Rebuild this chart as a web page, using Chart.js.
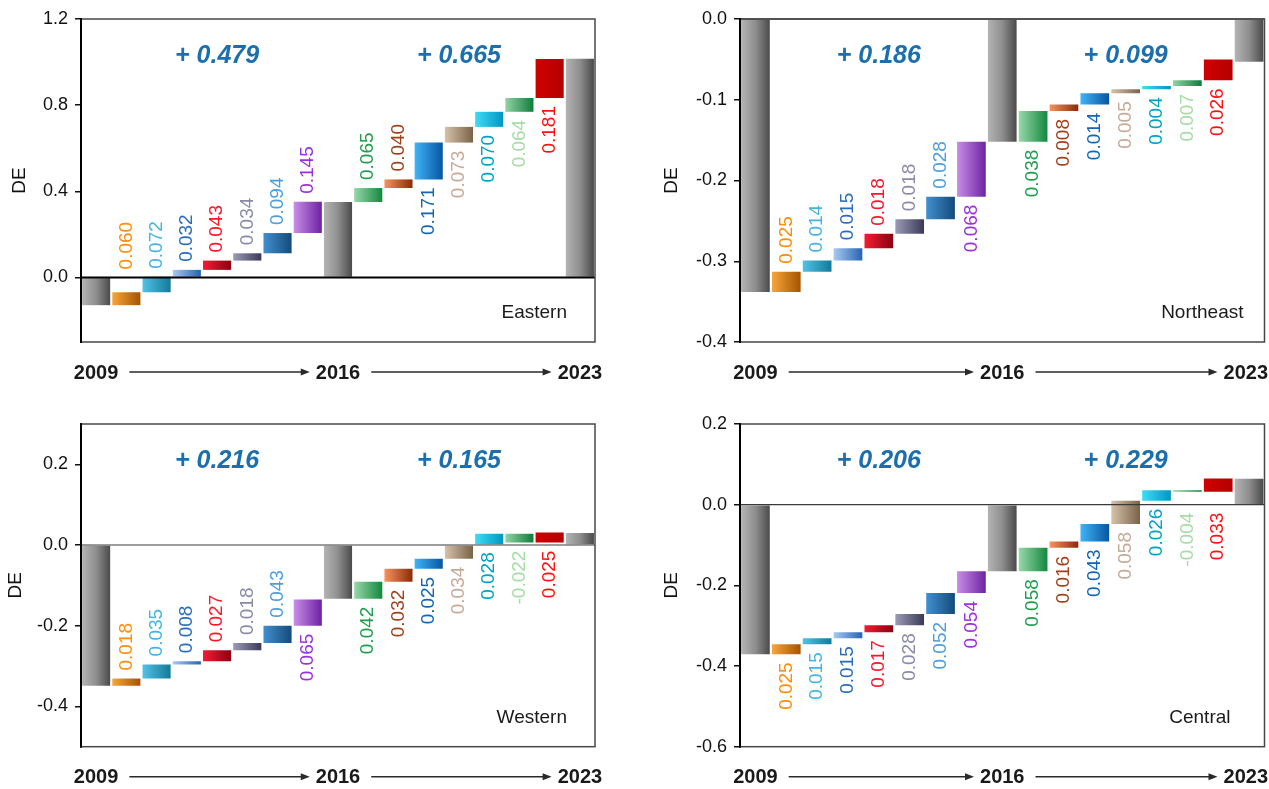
<!DOCTYPE html>
<html>
<head>
<meta charset="utf-8">
<script src="https://cdn.jsdelivr.net/npm/chart.js@4.4.1/dist/chart.umd.min.js"></script>
<style>
  html, body { margin: 0; padding: 0; background: #ffffff; }
  #fig { position: relative; width: 1269px; height: 789px; overflow: hidden; }
  .panel { position: absolute; }
  .panel canvas { display: block; }
</style>
</head>
<body>
<div id="fig">
  <div class="panel" style="left:0px;top:0px;"><canvas id="eastern" width="634" height="394"></canvas></div>
  <div class="panel" style="left:634px;top:0px;"><canvas id="northeast" width="635" height="394"></canvas></div>
  <div class="panel" style="left:0px;top:394px;"><canvas id="western" width="634" height="395"></canvas></div>
  <div class="panel" style="left:634px;top:394px;"><canvas id="central" width="635" height="395"></canvas></div>
</div>
<script>
// ---- data -------------------------------------------------------------
const years = ['2009', '2016', '2023'];

// DE level at 2009, 2016, 2023
const easternTotals   = [-0.129, 0.350, 1.015];
const northeastTotals = [-0.338, -0.152, -0.053];
const westernTotals   = [-0.349, -0.133, 0.030];
const centralTotals   = [-0.371, -0.165, 0.064];

// factor contributions, 2009 -> 2016
const easternFirst   = [0.060, 0.072, 0.032, 0.043, 0.034, 0.094, 0.145];
const northeastFirst = [0.025, 0.014, 0.015, 0.018, 0.018, 0.028, 0.068];
const westernFirst   = [0.018, 0.035, 0.008, 0.027, 0.018, 0.043, 0.065];
const centralFirst   = [0.025, 0.015, 0.015, 0.017, 0.028, 0.052, 0.054];

// factor contributions, 2016 -> 2023
const easternSecond   = [0.065, 0.040, 0.171, 0.073, 0.070, 0.064, 0.181];
const northeastSecond = [0.038, 0.008, 0.014, 0.005, 0.004, 0.007, 0.026];
const westernSecond   = [0.042, 0.032, 0.025, 0.034, 0.028, -0.022, 0.025];
const centralSecond   = [0.058, 0.016, 0.043, 0.058, 0.026, -0.004, 0.033];

// net change of each period
const easternChange   = [0.479, 0.665];
const northeastChange = [0.186, 0.099];
const westernChange   = [0.216, 0.165];
const centralChange   = [0.206, 0.229];

// y-axis tick values
const easternTicks   = [0.0, 0.4, 0.8, 1.2];
const northeastTicks = [-0.4, -0.3, -0.2, -0.1, 0.0];
const westernTicks   = [-0.4, -0.2, 0.0, 0.2];
const centralTicks   = [-0.6, -0.4, -0.2, 0.0, 0.2];

// ---- styles -----------------------------------------------------------
const FONT = '"Liberation Sans", Arial, Helvetica, sans-serif';
const TOTAL_FILL = ['#b4b4b4', '#8e8e8e', '#4a4a4a'];
const FIRST_FILL = [
  ['#f7a63c', '#a65300'],
  ['#52c2e6', '#127a9a'],
  ['#a8caf2', '#2862b2'],
  ['#f41c34', '#8c0010'],
  ['#9c9cb8', '#3a3a58'],
  ['#4290d0', '#144a7a'],
  ['#c88ee6', '#6e22a2']
];
const SECOND_FILL = [
  ['#98d8aa', '#12883e'],
  ['#f6945e', '#8c2a0a'],
  ['#40b4f6', '#0656a2'],
  ['#d6c2ac', '#7a6246'],
  ['#40dcf6', '#0096c2'],
  ['#92d4a4', '#0e7c3a'],
  ['#d00000', '#b60000']
];
const FIRST_TEXT  = ['#ff8c0a', '#45b4e4', '#2a6cbc', '#ff1428', '#8a8aa8', '#4c9ee0', '#9a30e0'];
const SECOND_TEXT = ['#1f9e4c', '#a3401c', '#1466b4', '#c6aa98', '#00a3c4', '#a6dca6', '#ff1010'];
const NOTE_BLUE = '#1b6fae';
const LABEL_GAP = 8;
const BAR_PCT = 0.93;

// ---- helpers ----------------------------------------------------------
function stepLabels() {
  const out = [years[0]];
  for (let k = 1; k <= 7; k++) out.push('a' + k);
  out.push(years[1]);
  for (let k = 1; k <= 7; k++) out.push('b' + k);
  out.push(years[2]);
  return out;
}

// floating [start, end] ranges of the waterfall
function waterfall(totals, first, second) {
  const ranges = [[0, totals[0]]];
  let level = totals[0];
  first.forEach(v => { ranges.push([level, level + v]); level += v; });
  ranges.push([0, totals[1]]);
  level = totals[1];
  second.forEach(v => { ranges.push([level, level + v]); level += v; });
  ranges.push([0, totals[2]]);
  return ranges;
}

function fillFor(index) {
  if (index === 0 || index === 8 || index === 16) return TOTAL_FILL;
  return index < 8 ? FIRST_FILL[index - 1] : SECOND_FILL[index - 9];
}

function barGradient(c) {
  const stops = fillFor(c.index);
  const chart = c.chart;
  const xs = chart.scales.x;
  if (!xs || !chart.chartArea) return stops[stops.length - 1];
  const cx = xs.getPixelForValue(c.index);
  const half = (xs.getPixelForValue(1) - xs.getPixelForValue(0)) * BAR_PCT / 2;
  const g = chart.ctx.createLinearGradient(cx - half, 0, cx + half, 0);
  stops.forEach((col, k) => g.addColorStop(k / (stops.length - 1), col));
  return g;
}

// plot frame and zero line
function framePlugin(p) {
  return {
    id: 'frame',
    afterDatasetsDraw(chart) {
      const { ctx, chartArea: a } = chart;
      const z = chart.scales.y.getPixelForValue(0);
      ctx.save();
      ctx.strokeStyle = p.zeroColor;
      ctx.lineWidth = p.zeroWidth;
      ctx.beginPath();
      ctx.moveTo(a.left, z);
      ctx.lineTo(a.right, z);
      ctx.stroke();
      ctx.strokeStyle = '#474747';
      ctx.lineWidth = 1.5;
      ctx.strokeRect(a.left, a.top, a.right - a.left, a.bottom - a.top);
      ctx.strokeStyle = '#000000';
      ctx.lineWidth = 2;
      ctx.beginPath();
      ctx.moveTo(a.left, a.top - 1);
      ctx.lineTo(a.left, a.bottom + 1);
      ctx.stroke();
      ctx.restore();
    }
  };
}

// rotated contribution values next to each factor bar
function valuePlugin(p) {
  return {
    id: 'values',
    afterDatasetsDraw(chart) {
      const ctx = chart.ctx;
      const meta = chart.getDatasetMeta(0);
      const z = chart.scales.y.getPixelForValue(0);
      const items = [];
      p.first.forEach((v, k) => items.push({ i: k + 1, v, side: p.sides[0][k], color: FIRST_TEXT[k] }));
      p.second.forEach((v, k) => items.push({ i: k + 9, v, side: p.sides[1][k], color: SECOND_TEXT[k] }));
      ctx.save();
      ctx.font = '19px ' + FONT;
      ctx.textBaseline = 'middle';
      items.forEach(it => {
        const bar = meta.data[it.i];
        const top = Math.min(bar.y, bar.base);
        const bottom = Math.max(bar.y, bar.base);
        const text = it.v.toFixed(3);
        const len = ctx.measureText(text).width;
        let anchor;
        if (it.side === 'A') {
          anchor = top - LABEL_GAP;
          if (anchor - len < z && anchor > z) anchor = z - LABEL_GAP;
        } else {
          anchor = bottom + LABEL_GAP;
          if (anchor + len > z && anchor < z) anchor = z + LABEL_GAP;
        }
        ctx.save();
        ctx.translate(bar.x, anchor);
        ctx.rotate(-Math.PI / 2);
        ctx.textAlign = it.side === 'A' ? 'left' : 'right';
        ctx.fillStyle = it.color;
        ctx.fillText(text, 0, 0);
        ctx.restore();
      });
      ctx.restore();
    }
  };
}

// period changes, region name and the year timeline under the plot
function notePlugin(p) {
  return {
    id: 'notes',
    afterDraw(chart) {
      const { ctx, chartArea: a } = chart;
      const xs = chart.scales.x;
      ctx.save();
      ctx.textBaseline = 'middle';
      ctx.textAlign = 'center';
      ctx.fillStyle = NOTE_BLUE;
      ctx.font = 'italic bold 25px ' + FONT;
      ctx.fillText('+ ' + p.change[0].toFixed(3), xs.getPixelForValue(4), a.top + 37);
      ctx.fillText('+ ' + p.change[1].toFixed(3), xs.getPixelForValue(12), a.top + 37);

      ctx.fillStyle = '#1a1a1a';
      ctx.font = '19px ' + FONT;
      ctx.textAlign = 'right';
      ctx.fillText(p.name, a.right - p.nameInset, a.bottom - 29);

      ctx.font = 'bold 20px ' + FONT;
      ctx.textAlign = 'center';
      const yy = a.bottom + 30;
      const w = years.map(t => ctx.measureText(t).width);
      const pos = [0, 8, 16].map((i, k) => Math.min(xs.getPixelForValue(i), chart.width - w[k] / 2 - 1));
      years.forEach((t, k) => ctx.fillText(t, pos[k], yy + 1));
      ctx.strokeStyle = '#2a2a2a';
      ctx.fillStyle = '#2a2a2a';
      ctx.lineWidth = 1.5;
      for (let k = 0; k < 2; k++) {
        const x0 = pos[k] + w[k] / 2 + 11;
        const x1 = pos[k + 1] - w[k + 1] / 2 - 6;
        ctx.beginPath();
        ctx.moveTo(x0, yy);
        ctx.lineTo(x1 - 7, yy);
        ctx.stroke();
        ctx.beginPath();
        ctx.moveTo(x1, yy);
        ctx.lineTo(x1 - 9, yy - 3.5);
        ctx.lineTo(x1 - 9, yy + 3.5);
        ctx.closePath();
        ctx.fill();
      }
      ctx.restore();
    }
  };
}

function drawPanel(canvasId, p) {
  const el = document.getElementById(canvasId);
  return new Chart(el, {
    type: 'bar',
    data: {
      labels: stepLabels(),
      datasets: [{
        data: waterfall(p.totals, p.first, p.second),
        backgroundColor: barGradient,
        borderWidth: 0,
        barPercentage: BAR_PCT,
        categoryPercentage: 1.0
      }]
    },
    options: {
      responsive: false,
      devicePixelRatio: 1,
      animation: false,
      events: [],
      layout: { padding: p.padding },
      plugins: { legend: { display: false }, tooltip: { enabled: false } },
      scales: {
        x: { display: false, offset: true, grid: { display: false } },
        y: {
          min: p.min,
          max: p.max,
          afterBuildTicks: s => { s.ticks = p.ticks.map(v => ({ value: v })); },
          afterFit: s => { s.width = p.axisWidth; },
          border: { display: false },
          grid: { drawOnChartArea: false, drawTicks: true, tickLength: 6, color: '#111111', lineWidth: 1.5 },
          ticks: {
            padding: 7,
            color: '#111111',
            font: { family: FONT, size: 18 },
            callback: v => Number(v).toFixed(1)
          },
          title: {
            display: true,
            text: 'DE',
            color: '#111111',
            font: { family: FONT, size: 19 },
            padding: { top: p.titlePad, bottom: 0 }
          }
        }
      }
    },
    plugins: [framePlugin(p), valuePlugin(p), notePlugin(p)]
  });
}

drawPanel('eastern', {
  name: 'Eastern', totals: easternTotals, first: easternFirst, second: easternSecond,
  change: easternChange, ticks: easternTicks, min: -0.3, max: 1.2,
  sides: ['AAAAAAA', 'AABBBBB'],
  padding: { left: 0, top: 19, right: 39, bottom: 52 }, axisWidth: 81, titlePad: 8,
  nameInset: 28, zeroColor: '#000000', zeroWidth: 2
});
drawPanel('northeast', {
  name: 'Northeast', totals: northeastTotals, first: northeastFirst, second: northeastSecond,
  change: northeastChange, ticks: northeastTicks, min: -0.4, max: 0.0,
  sides: ['AAAAAAB', 'BBBBBBB'],
  padding: { left: 0, top: 19, right: 4.5, bottom: 52 }, axisWidth: 106, titlePad: 26,
  nameInset: 21, zeroColor: '#474747', zeroWidth: 1.5
});
drawPanel('western', {
  name: 'Western', totals: westernTotals, first: westernFirst, second: westernSecond,
  change: westernChange, ticks: westernTicks, min: -0.5, max: 0.3,
  sides: ['AAAAAAB', 'BBBBBBB'],
  padding: { left: 0, top: 30, right: 39, bottom: 42.3 }, axisWidth: 81, titlePad: 4,
  nameInset: 28, zeroColor: '#3a3a3a', zeroWidth: 1.2
});
drawPanel('central', {
  name: 'Central', totals: centralTotals, first: centralFirst, second: centralSecond,
  change: centralChange, ticks: centralTicks, min: -0.6, max: 0.2,
  sides: ['BBBBBBB', 'BBBBBBB'],
  padding: { left: 0, top: 30, right: 4.5, bottom: 42.3 }, axisWidth: 106, titlePad: 26,
  nameInset: 34, zeroColor: '#3a3a3a', zeroWidth: 1.2
});
</script>
</body>
</html>
